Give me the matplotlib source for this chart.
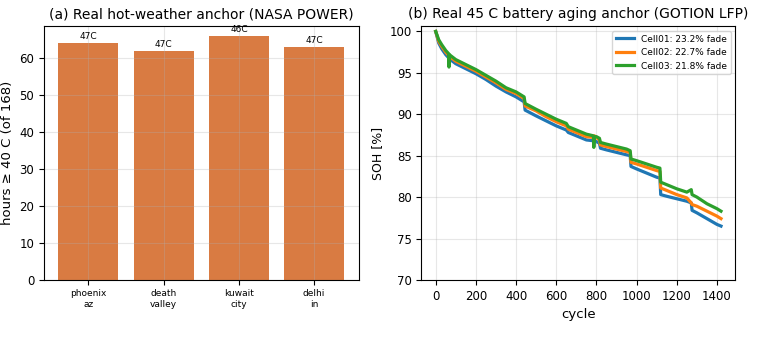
'''
Two-panel anchor figure: hot-weather hours and 45 C battery aging.
'''

import numpy as np
from matplotlib import pyplot as plt
from matplotlib.ticker import MultipleLocator


#(0) Data:
sites       = ['phoenix\naz', 'death\nvalley', 'kuwait\ncity', 'delhi\nin']
hours_40c   = [64, 62, 66, 63]
peak_temp   = ['47C', '47C', '46C', '47C']

cycles = [0, 15, 30, 50, 65, 66, 68, 100, 150, 200, 250, 300, 350, 400, 440, 445,
          500, 550, 600, 650, 660, 700, 750, 785, 787, 790, 800, 815, 820, 850, 900,
          950, 968, 972, 1000, 1050, 1100, 1116, 1120, 1150, 1200, 1250, 1272, 1276,
          1300, 1350, 1400, 1420]
soh_cell01 = [100, 98.6, 97.9, 97.2, 96.8, 96.8, 96.7, 96.1, 95.5, 94.9, 94.2, 93.4,
              92.7, 92.1, 91.5, 90.5, 89.8, 89.2, 88.6, 88.1, 87.8, 87.4, 86.9, 86.8,
              86.8, 86.8, 86.7, 86.5, 85.9, 85.7, 85.4, 85.1, 85.0, 83.7, 83.4, 82.9,
              82.4, 82.3, 80.3, 80.1, 79.8, 79.5, 79.3, 78.4, 78.1, 77.4, 76.7, 76.5]
soh_cell02 = [100, 98.8, 98.2, 97.5, 97.1, 97.1, 97.0, 96.4, 95.8, 95.2, 94.5, 93.8,
              93.0, 92.5, 91.9, 91.0, 90.4, 89.7, 89.1, 88.6, 88.2, 87.8, 87.3, 87.2,
              87.2, 87.4, 87.2, 86.9, 86.3, 86.1, 85.8, 85.5, 85.4, 84.2, 84.0, 83.6,
              83.2, 83.1, 81.1, 80.8, 80.3, 79.9, 79.3, 79.1, 78.9, 78.3, 77.7, 77.4]
soh_cell03 = [100, 99.0, 98.4, 97.7, 97.3, 95.7, 97.2, 96.6, 96.0, 95.4, 94.7, 94.0,
              93.2, 92.7, 92.1, 91.3, 90.6, 90.0, 89.4, 88.9, 88.5, 88.1, 87.6, 87.4,
              86.0, 87.3, 87.3, 87.1, 86.6, 86.4, 86.1, 85.8, 85.6, 84.6, 84.4, 84.0,
              83.6, 83.5, 81.8, 81.5, 81.0, 80.6, 80.9, 80.3, 80.0, 79.2, 78.6, 78.3]
cell_names  = ['Cell01', 'Cell02', 'Cell03']
cell_fade   = [23.2, 22.7, 21.8]


#(1) Plot:
plt.close('all')
fig = plt.figure(figsize=(7.58, 3.53), dpi=100)
ax0 = fig.add_axes([0.058, 0.208, 0.415, 0.717])
ax1 = fig.add_axes([0.556, 0.207, 0.414, 0.718])

### (a) bars
x = np.arange(len(sites))
ax0.bar(x, hours_40c, width=0.8, color='#d97b42')
for xi, h, t in zip(x, hours_40c, peak_temp):
	ax0.text(xi, h + 0.6, t, ha='center', va='bottom', size=6.5)
ax0.set_xticks(x)
ax0.set_xticklabels(sites, size=6.5)
ax0.set_ylim(0, 68.6)
ax0.set_ylabel('hours \u2265 40 C (of 168)', size=9.5)
ax0.set_title('(a) Real hot-weather anchor (NASA POWER)', size=10)
ax0.grid(alpha=0.3)
plt.setp(ax0.get_yticklabels(), size=8.5)

### (b) SOH curves
for soh, name, fade, c in zip([soh_cell01, soh_cell02, soh_cell03], cell_names, cell_fade, ['C0', 'C1', 'C2']):
	ax1.plot(cycles, soh, color=c, lw=2.3, label='%s: %.1f%% fade' % (name, fade))
ax1.set_ylim(70, 100.6)
ax1.xaxis.set_major_locator(MultipleLocator(200))
ax1.set_xlabel('cycle', size=9.5)
ax1.set_ylabel('SOH [%]', size=9)
ax1.set_title('(b) Real 45 C battery aging anchor (GOTION LFP)', size=10)
ax1.grid(alpha=0.3)
ax1.legend(loc='upper right', fontsize=6.5)
plt.setp(ax1.get_xticklabels() + ax1.get_yticklabels(), size=8.5)

plt.savefig('out.png', dpi=100)
